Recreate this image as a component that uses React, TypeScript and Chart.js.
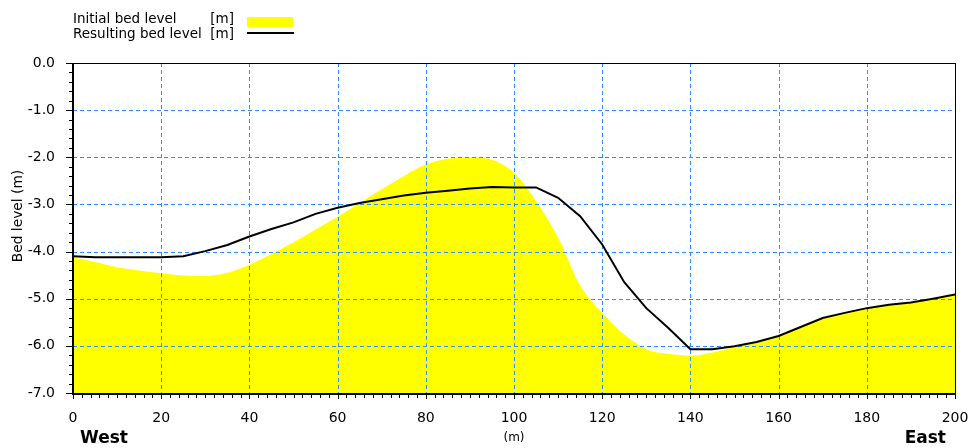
import React, { useEffect, useRef } from "react";
import { Chart, registerables } from "chart.js";

Chart.register(...registerables);

// ---- data ----
const positions = [
  0, 5, 10, 15, 20, 25, 30, 35, 40, 45, 50, 55, 60, 65, 70, 75, 80, 85, 90, 95, 100,
  105, 110, 115, 120, 125, 130, 135, 140, 145, 150, 155, 160, 165, 170, 175, 180, 185, 190, 195, 200,
];
const initialBed = [
  -4.12, -4.22, -4.33, -4.4, -4.46, -4.51, -4.52, -4.45, -4.28, -4.05, -3.8, -3.53, -3.26, -2.97, -2.68,
  -2.4, -2.15, -2.03, -2.0, -2.05, -2.33, -2.93, -3.7, -4.72, -5.3, -5.76, -6.07, -6.17, -6.21, -6.14,
  -6.03, -5.93, -5.8, -5.61, -5.41, -5.3, -5.2, -5.13, -5.08, -5.0, -4.91,
];
const resultingBed = [
  -4.1, -4.12, -4.12, -4.12, -4.12, -4.1, -3.99, -3.86, -3.68, -3.52, -3.38, -3.2, -3.07, -2.97, -2.89,
  -2.81, -2.75, -2.71, -2.66, -2.63, -2.64, -2.64, -2.86, -3.25, -3.85, -4.65, -5.2, -5.62, -6.07, -6.07,
  -6.01, -5.92, -5.79, -5.6, -5.41, -5.3, -5.2, -5.13, -5.08, -5.0, -4.91,
];
const seriesLabels = ["Initial bed level", "Resulting bed level"];
const unitLabel = "[m]";
const xTitle = "(m)";
const yTitle = "Bed level (m)";
const westLabel = "West";
const eastLabel = "East";

const FONT = "DejaVu Sans";
const YELLOW = "#ffff00";
const GRID_BLUE = "#2a90ff";

const gridPlugin = {
  id: "bedGrid",
  beforeDatasetDraw(chart: any, args: any) {
    if (args.index !== 0) return;
    const { ctx, chartArea: a, scales } = chart;
    const x = scales.x;
    const y = scales.y;
    ctx.save();
    ctx.strokeStyle = GRID_BLUE;
    ctx.lineWidth = 1;
    ctx.setLineDash([4, 3]);
    x.ticks.forEach((t: any) => {
      if (t.value <= x.min || t.value >= x.max) return;
      const px = Math.round(x.getPixelForValue(t.value)) + 0.5;
      ctx.beginPath();
      ctx.moveTo(px, a.top);
      ctx.lineTo(px, a.bottom);
      ctx.stroke();
    });
    y.ticks.forEach((t: any) => {
      if (t.value <= y.min || t.value >= y.max) return;
      const py = Math.round(y.getPixelForValue(t.value)) + 0.5;
      ctx.beginPath();
      ctx.moveTo(a.left, py);
      ctx.lineTo(a.right, py);
      ctx.stroke();
    });
    ctx.restore();
  },
};

const framePlugin = {
  id: "bedFrame",
  afterDraw(chart: any) {
    const { ctx, chartArea: a, scales } = chart;
    const x = scales.x;
    const y = scales.y;
    ctx.save();
    ctx.setLineDash([]);
    ctx.strokeStyle = "#000";
    // frame
    ctx.lineWidth = 1;
    ctx.beginPath();
    ctx.moveTo(a.left, a.top + 0.5);
    ctx.lineTo(a.right, a.top + 0.5);
    ctx.moveTo(a.right + 0.5, a.top);
    ctx.lineTo(a.right + 0.5, a.bottom);
    ctx.stroke();
    ctx.lineWidth = 2;
    ctx.beginPath();
    ctx.moveTo(a.left, a.top);
    ctx.lineTo(a.left, a.bottom + 1);
    ctx.lineTo(a.right + 1, a.bottom + 1);
    ctx.stroke();
    // y ticks (major + minor every 0.2)
    ctx.lineWidth = 1;
    ctx.beginPath();
    for (let i = 0; i <= 35; i++) {
      const v = y.min + i * 0.2;
      const py = Math.round(y.getPixelForValue(v)) + 0.5;
      const len = i % 5 === 0 ? 7 : 4;
      ctx.moveTo(a.left - len, py);
      ctx.lineTo(a.left, py);
    }
    // x ticks (every 2 m)
    for (let i = 0; i <= 100; i++) {
      const v = x.min + i * 2;
      const px = Math.round(x.getPixelForValue(v)) + 0.5;
      const len = i % 10 === 0 ? 5 : 4;
      ctx.moveTo(px, a.bottom + 1);
      ctx.lineTo(px, a.bottom + 1 + len);
    }
    ctx.stroke();

    // y-axis title
    ctx.fillStyle = "#000";
    ctx.save();
    ctx.translate(18, 216);
    ctx.rotate(-Math.PI / 2);
    ctx.font = `13.8px "${FONT}"`;
    ctx.textAlign = "center";
    ctx.textBaseline = "middle";
    ctx.fillText(yTitle, 0, 0);
    ctx.restore();

    // legend
    ctx.fillStyle = "#000";
    ctx.font = `13.5px "${FONT}"`;
    ctx.textBaseline = "alphabetic";
    ctx.textAlign = "left";
    ctx.fillText(seriesLabels[0], 73, 23);
    ctx.fillText(seriesLabels[1], 73, 38);
    ctx.textAlign = "right";
    ctx.fillText(unitLabel, 234, 23);
    ctx.fillText(unitLabel, 234, 38);
    ctx.fillStyle = YELLOW;
    ctx.fillRect(247, 17, 46, 10);
    ctx.strokeStyle = "#000";
    ctx.lineWidth = 2;
    ctx.beginPath();
    ctx.moveTo(247, 33);
    ctx.lineTo(294, 33);
    ctx.stroke();

    // West / East
    ctx.fillStyle = "#000";
    ctx.font = `bold 17px "${FONT}"`;
    ctx.textAlign = "left";
    ctx.fillText(westLabel, 80, 443);
    ctx.textAlign = "right";
    ctx.fillText(eastLabel, 946, 443);
    ctx.restore();
  },
};

export default function App() {
  const ref = useRef<HTMLCanvasElement | null>(null);
  useEffect(() => {
    if (!ref.current) return;
    const chart = new Chart(ref.current, {
      type: "line",
      data: {
        datasets: [
          {
            label: seriesLabels[1],
            data: positions.map((p, i) => ({ x: p, y: resultingBed[i] })),
            borderColor: "#000",
            borderWidth: 2,
            pointRadius: 0,
            tension: 0,
            fill: false,
          },
          {
            label: seriesLabels[0],
            data: positions.map((p, i) => ({ x: p, y: initialBed[i] })),
            borderWidth: 0,
            borderColor: "rgba(0,0,0,0)",
            backgroundColor: YELLOW,
            pointRadius: 0,
            cubicInterpolationMode: "monotone",
            fill: "start",
          },
        ],
      },
      options: {
        responsive: false,
        animation: false,
        devicePixelRatio: 1,
        layout: { padding: { left: 0, top: 63, right: 19, bottom: 0 } },
        plugins: { legend: { display: false }, tooltip: { enabled: false } },
        scales: {
          x: {
            type: "linear",
            min: 0,
            max: 200,
            grid: { display: false },
            border: { display: false },
            ticks: {
              stepSize: 20,
              color: "#000",
              font: { family: FONT, size: 14 },
              padding: 9,
              maxRotation: 0,
              autoSkip: false,
            },
            title: {
              display: true,
              text: xTitle,
              color: "#000",
              font: { family: FONT, size: 12 },
              padding: { top: 0, bottom: 3 },
            },
            afterFit(s: any) {
              s.height = 55;
              s.paddingLeft = 0;
              s.paddingRight = 0;
            },
          },
          y: {
            type: "linear",
            min: -7,
            max: 0,
            grid: { display: false },
            border: { display: false },
            ticks: {
              stepSize: 1,
              color: "#000",
              font: { family: FONT, size: 14 },
              padding: 10,
              callback: (v: any) => Number(v).toFixed(1),
            },
            title: { display: false },
            afterFit(s: any) {
              s.width = 73;
              s.paddingTop = 0;
              s.paddingBottom = 0;
            },
          },
        },
      },
      plugins: [gridPlugin, framePlugin],
    } as any);
    return () => chart.destroy();
  }, []);
  return (
    <div style={{ position: "fixed", left: 0, top: 0, width: 974, height: 448, background: "#fff" }}>
      <canvas ref={ref} width={974} height={448} style={{ width: 974, height: 448, display: "block" }} />
    </div>
  );
}
